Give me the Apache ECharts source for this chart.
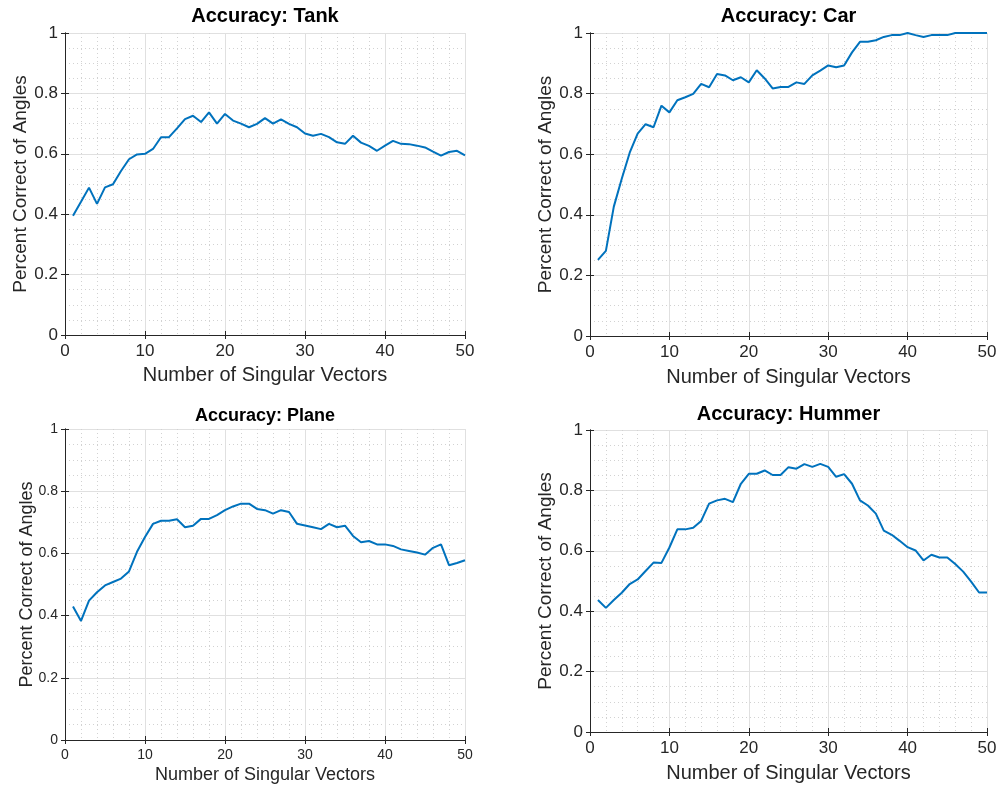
<!DOCTYPE html>
<html>
<head>
<meta charset="utf-8">
<title>Accuracy vs. Number of Singular Vectors</title>
<script src="https://cdn.jsdelivr.net/npm/echarts@6/dist/echarts.min.js"></script>
<style>
  html, body { margin: 0; padding: 0; background: #ffffff; }
  #chart { width: 1002px; height: 788px; }
</style>
</head>
<body>
<div id="chart"></div>
<script>
// Number of singular vectors kept (x values shared by all four panels)
const singularVectors = [
  1, 2, 3, 4, 5, 6, 7, 8, 9, 10,
  11, 12, 13, 14, 15, 16, 17, 18, 19, 20,
  21, 22, 23, 24, 25, 26, 27, 28, 29, 30,
  31, 32, 33, 34, 35, 36, 37, 38, 39, 40,
  41, 42, 43, 44, 45, 46, 47, 48, 49, 50
];

// Fraction of angles classified correctly, per target
const tankAcc = [
  0.395, 0.441, 0.488, 0.434, 0.489, 0.499, 0.543, 0.582, 0.598, 0.600,
  0.616, 0.655, 0.655, 0.684, 0.715, 0.726, 0.705, 0.737, 0.700, 0.732,
  0.710, 0.700, 0.688, 0.699, 0.718, 0.700, 0.714, 0.699, 0.688, 0.667,
  0.660, 0.666, 0.655, 0.638, 0.633, 0.660, 0.637, 0.626, 0.610, 0.627,
  0.643, 0.633, 0.632, 0.627, 0.621, 0.607, 0.594, 0.606, 0.610, 0.595
];
const carAcc = [
  0.251, 0.281, 0.427, 0.519, 0.605, 0.668, 0.699, 0.689, 0.760, 0.738,
  0.778, 0.788, 0.799, 0.832, 0.821, 0.865, 0.860, 0.844, 0.854, 0.837,
  0.877, 0.850, 0.817, 0.822, 0.822, 0.837, 0.832, 0.860, 0.876, 0.893,
  0.887, 0.893, 0.936, 0.971, 0.971, 0.976, 0.987, 0.993, 0.993, 1.000,
  0.993, 0.987, 0.993, 0.993, 0.993, 1.000, 1.000, 1.000, 1.000, 1.000
];
const planeAcc = [
  0.429, 0.383, 0.448, 0.475, 0.497, 0.508, 0.519, 0.542, 0.605, 0.653,
  0.695, 0.705, 0.705, 0.710, 0.684, 0.689, 0.711, 0.711, 0.723, 0.739,
  0.751, 0.760, 0.760, 0.743, 0.739, 0.728, 0.739, 0.733, 0.695, 0.690,
  0.684, 0.678, 0.695, 0.684, 0.689, 0.656, 0.636, 0.640, 0.629, 0.629,
  0.624, 0.613, 0.608, 0.603, 0.596, 0.618, 0.629, 0.562, 0.569, 0.578
];
const hummerAcc = [
  0.437, 0.411, 0.437, 0.461, 0.490, 0.505, 0.533, 0.561, 0.560, 0.611,
  0.671, 0.671, 0.676, 0.699, 0.756, 0.767, 0.772, 0.761, 0.822, 0.855,
  0.855, 0.866, 0.851, 0.851, 0.877, 0.872, 0.887, 0.878, 0.888, 0.878,
  0.845, 0.854, 0.822, 0.767, 0.750, 0.723, 0.667, 0.653, 0.633, 0.612,
  0.601, 0.568, 0.587, 0.578, 0.578, 0.556, 0.531, 0.498, 0.462, 0.462
];

// Axis ranges and labels
const xRange = [0, 50];
const xStep = 10;
const yRange = [0, 1];
const yStep = 0.2;
const xLabel = 'Number of Singular Vectors';
const yLabel = 'Percent Correct of Angles';
const titles = ['Accuracy: Tank', 'Accuracy: Car', 'Accuracy: Plane', 'Accuracy: Hummer'];
const seriesList = [tankAcc, carAcc, planeAcc, hummerAcc];

// Panel geometry and type sizes
const layout = [
  { grid: { left: 65, top: 33, width: 400, height: 302 }, titleY: 16, titleSize: 20, tick: 17, xName: 20, yName: 19, xGap: 30, yGap: 35 },
  { grid: { left: 590, top: 33, width: 397, height: 303 }, titleY: 16, titleSize: 20, tick: 17, xName: 20, yName: 19, xGap: 31, yGap: 35 },
  { grid: { left: 65, top: 429, width: 400, height: 311 }, titleY: 416, titleSize: 18, tick: 14, xName: 18, yName: 18, xGap: 26, yGap: 29 },
  { grid: { left: 590, top: 430, width: 397, height: 302 }, titleY: 414, titleSize: 20, tick: 17, xName: 20, yName: 19, xGap: 31, yGap: 35 }
];

const FONT = '"Liberation Sans", Arial, Helvetica, sans-serif';
const AXIS_COLOR = '#262626';
const LINE_COLOR = '#0072BD';

const grids = [], xAxes = [], yAxes = [], series = [], graphics = [];

layout.forEach((p, i) => {
  grids.push(Object.assign({ containLabel: false, show: false }, p.grid));

  const axisLine = { show: true, lineStyle: { color: AXIS_COLOR, width: 1 } };
  const tick = { show: true, inside: true, length: 4, lineStyle: { color: AXIS_COLOR, width: 1 } };
  const majorGrid = { show: true, lineStyle: { color: '#e0e0e0', width: 1, type: 'solid' } };
  const minorGrid = { show: true, lineStyle: { color: '#d2d2d2', width: 1, type: [1, 3] } };

  // bottom x axis
  xAxes.push({
    type: 'value', gridIndex: i, position: 'bottom',
    min: xRange[0], max: xRange[1], interval: xStep,
    axisLine, axisTick: tick,
    axisLabel: { color: AXIS_COLOR, fontSize: p.tick, fontFamily: FONT, margin: 8 },
    splitLine: majorGrid,
    minorTick: { show: false, splitNumber: 5 },
    minorSplitLine: minorGrid,
    name: xLabel, nameLocation: 'middle', nameGap: p.xGap, nameMoveOverlap: false,
    nameTextStyle: { color: AXIS_COLOR, fontSize: p.xName, fontFamily: FONT }
  });
  // top x axis (box edge with ticks)
  xAxes.push({
    type: 'value', gridIndex: i, position: 'top',
    min: xRange[0], max: xRange[1], interval: xStep,
    axisLine, axisTick: tick,
    axisLabel: { show: false }, splitLine: { show: false }
  });
  // left y axis
  yAxes.push({
    type: 'value', gridIndex: i, position: 'left',
    min: yRange[0], max: yRange[1], interval: yStep,
    axisLine, axisTick: tick,
    axisLabel: { color: AXIS_COLOR, fontSize: p.tick, fontFamily: FONT, margin: 7 },
    splitLine: majorGrid,
    minorTick: { show: false, splitNumber: 4 },
    minorSplitLine: minorGrid,
    name: yLabel, nameLocation: 'middle', nameGap: p.yGap, nameRotate: 90, nameMoveOverlap: false,
    nameTextStyle: { color: AXIS_COLOR, fontSize: p.yName, fontFamily: FONT }
  });
  // right y axis (box edge with ticks)
  yAxes.push({
    type: 'value', gridIndex: i, position: 'right',
    min: yRange[0], max: yRange[1], interval: yStep,
    axisLine, axisTick: tick,
    axisLabel: { show: false }, splitLine: { show: false }
  });

  series.push({
    type: 'line',
    xAxisIndex: i * 2, yAxisIndex: i * 2,
    data: singularVectors.map((n, k) => [n, seriesList[i][k]]),
    showSymbol: false, symbol: 'none',
    lineStyle: { color: LINE_COLOR, width: 2 },
    itemStyle: { color: LINE_COLOR },
    clip: false, silent: true, animation: false
  });

  graphics.push({
    type: 'text',
    x: p.grid.left + p.grid.width / 2,
    y: p.titleY,
    style: {
      text: titles[i],
      font: 'bold ' + p.titleSize + 'px ' + FONT,
      fill: '#000000',
      textAlign: 'center',
      textVerticalAlign: 'middle'
    }
  });
});

const chart = echarts.init(document.getElementById('chart'), null, { renderer: 'canvas' });
chart.setOption({
  backgroundColor: '#ffffff',
  animation: false,
  grid: grids,
  xAxis: xAxes,
  yAxis: yAxes,
  series: series,
  graphic: graphics
});
</script>
</body>
</html>
